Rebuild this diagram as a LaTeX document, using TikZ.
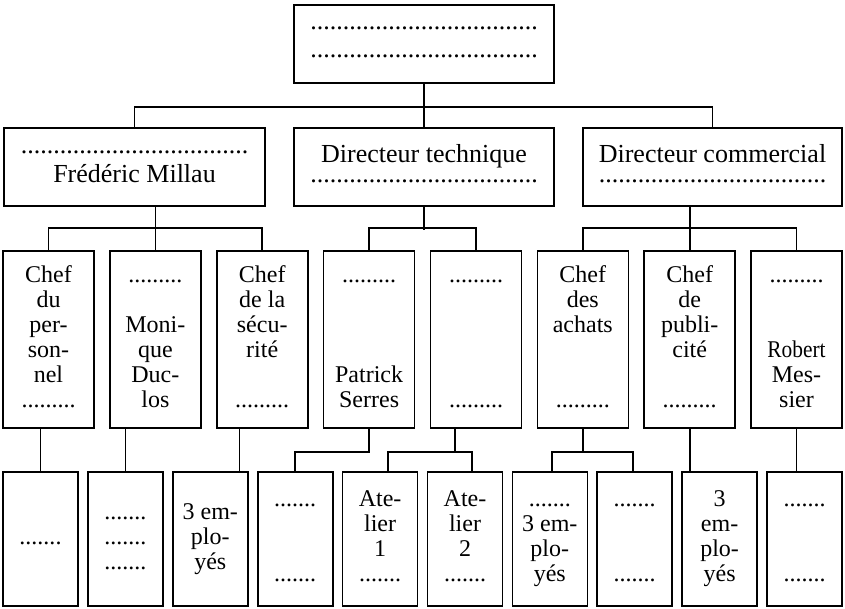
\documentclass[tikz,border=0pt]{standalone}
\usepackage{fontspec}
\setmainfont{Liberation Serif}
\newcommand{\dotsnine}{.........}
\newcommand{\dotsseven}{.......}
\newcommand{\dotslong}{...................................}
\newcommand{\blankln}{\mbox{}}
\begin{document}
\begin{tikzpicture}[x=1pt,y=-1pt,line width=1.6pt,
  box/.style={draw,inner sep=0pt,align=center},
  topbox/.style={box,minimum width=260pt,minimum height=78pt},
  l2box/.style={box,minimum width=260pt,minimum height=78pt},
  l3box/.style={box,minimum width=91pt,minimum height=177pt,font=\fontsize{24}{25}\selectfont},
  l4box/.style={box,minimum width=75pt,minimum height=134pt,font=\fontsize{24}{25}\selectfont},
  bigtxt/.style={inner sep=0pt,anchor=base,font=\fontsize{26}{30}\selectfont}]
\useasboundingbox[fill=white] (0,0) rectangle (845,608);

% top
\node[topbox] (top) at (424,44) {};
\node[bigtxt] (top1) at (424,29) {\dotslong};
\node[bigtxt] (top2) at (424,57) {\dotslong};

% level 2
\node[l2box,minimum width=261pt] (L2a) at (134.5,167) {};
\node[bigtxt] (L2a1) at (134.5,153) {\dotslong};
\node[bigtxt] (L2a2) at (134.5,182) {Frédéric Millau};
\node[l2box] (L2b) at (424,167) {};
\node[bigtxt] (L2b1) at (424,162) {Directeur technique};
\node[bigtxt] (L2b2) at (424,182) {\dotslong};
\node[l2box,minimum width=259pt] (L2c) at (712.5,167) {};
\node[bigtxt] (L2c1) at (712.5,162) {Directeur commercial};
\node[bigtxt] (L2c2) at (712.5,182) {\dotslong};

% level 3
\node[l3box] (L3a) at (48.5,339.5) {\strut Chef\\du\\per-\\son-\\nel\\\dotsnine\strut};
\node[l3box] (L3b) at (155.4,339.5) {\strut\dotsnine\\\blankln\\Moni-\\que\\Duc-\\los\strut};
\node[l3box] (L3c) at (262.2,339.5) {\strut Chef\\de la\\sécu-\\rité\\\blankln\\\dotsnine\strut};
\node[l3box] (L3d) at (369.1,339.5) {\strut\dotsnine\\\blankln\\\blankln\\\blankln\\Patrick\\Serres\strut};
\node[l3box] (L3e) at (476,339.5) {\strut\dotsnine\\\blankln\\\blankln\\\blankln\\\blankln\\\dotsnine\strut};
\node[l3box] (L3f) at (582.8,339.5) {\strut Chef\\des\\achats\\\blankln\\\blankln\\\dotsnine\strut};
\node[l3box] (L3g) at (689.7,339.5) {\strut Chef\\de\\publi-\\cité\\\blankln\\\dotsnine\strut};
\node[l3box] (L3h) at (796.5,339.5) {\strut\dotsnine\\\blankln\\\blankln\\\scalebox{0.89}[1]{Robert}\\Mes-\\sier\strut};

% level 4
\node[l4box] (b1) at (40.5,539) {\strut\dotsseven\strut};
\node[l4box] (b2) at (125.4,539) {\strut\dotsseven\\\dotsseven\\\dotsseven\strut};
\node[l4box] (b3) at (210.3,539) {\strut 3 em-\\plo-\\yés\strut};
\node[l4box] (b4) at (295.2,539) {\strut\dotsseven\\\blankln\\\blankln\\\dotsseven\strut};
\node[l4box] (b5) at (380.1,539) {\strut Ate-\\lier\\1\\\dotsseven\strut};
\node[l4box] (b6) at (465,539) {\strut Ate-\\lier\\2\\\dotsseven\strut};
\node[l4box] (b7) at (549.8,539) {\strut\dotsseven\\3 em-\\plo-\\yés\strut};
\node[l4box] (b8) at (634.7,539) {\strut\dotsseven\\\blankln\\\blankln\\\dotsseven\strut};
\node[l4box] (b9) at (719.6,539) {\strut 3\\em-\\plo-\\yés\strut};
\node[l4box] (b10) at (804.5,539) {\strut\dotsseven\\\blankln\\\blankln\\\dotsseven\strut};

% connectors top -> level 2
\draw (top.south) -- (L2b.north);
\draw (L2a.north) -- ++(0,-20) -| (L2c.north);

% level 2 -> level 3
\draw (L2a.south -| L3b.north) -- (L3b.north);
\draw (L3a.north) -- ++(0,-22) -| (L3c.north);
\draw (L2b.south) -- ++(0,23);
\draw (L3d.north) -- ++(0,-22) -| (L3e.north);
\draw (L2c.south -| L3g.north) -- (L3g.north);
\draw (L3f.north) -- ++(0,-22) -| (L3h.north);

% level 3 -> level 4
\draw (b1.north) -- (b1.north |- L3a.south);
\draw (b2.north) -- (b2.north |- L3b.south);
\draw ([xshift=-9pt]b3.north east) -- ([xshift=-9pt]b3.north east |- L3c.south);
\draw (L3d.south) -- ++(0,23) -| (b4.north);
\coordinate (je) at ([xshift=-21pt,yshift=-23pt]L3e.south);
\draw ([xshift=-21pt]L3e.south) -- (je);
\draw ([xshift=8pt]b5.north) |- (je) -| ([xshift=7pt]b6.north);
\coordinate (jf) at ([yshift=-23pt]L3f.south);
\draw (L3f.south) -- (jf);
\draw ([xshift=2pt]b7.north) |- (jf) -| ([xshift=-2pt]b8.north);
\draw (L3g.south) -- (L3g.south |- b9.north);
\draw (L3h.south) -- (L3h.south |- b10.north);
\end{tikzpicture}
\end{document}
